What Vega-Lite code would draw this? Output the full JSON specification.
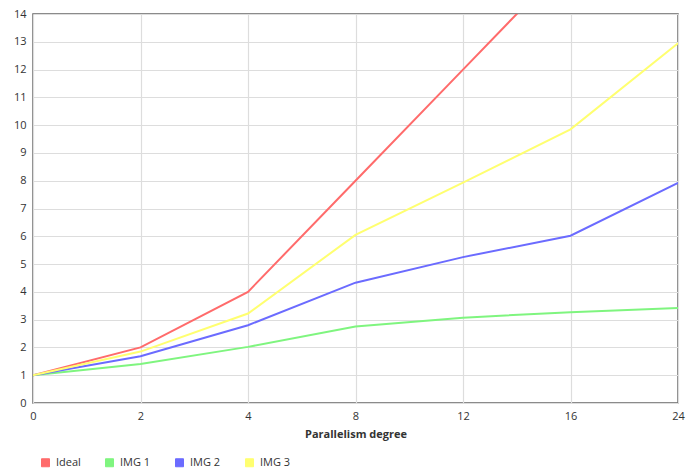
{
  "$schema": "https://vega.github.io/schema/vega-lite/v6.json",
  "autosize": "none",
  "width": 645,
  "height": 389,
  "padding": {"left": 33, "top": 14, "right": 19, "bottom": 70},
  "background": "white",
  "config": {
    "font": "Open Sans",
    "view": {"stroke": "#666666", "strokeWidth": 1.5},
    "axis": {"gridColor": "#dddddd", "gridWidth": 1.2, "domain": false, "ticks": false, "labelFont": "Open Sans", "labelFontSize": 11, "labelColor": "#333333"}
  },
  "data": {
    "values": [
      {"x": 0, "series": "Ideal", "y": 1},
      {"x": 2, "series": "Ideal", "y": 2},
      {"x": 4, "series": "Ideal", "y": 4},
      {"x": 8, "series": "Ideal", "y": 8},
      {"x": 12, "series": "Ideal", "y": 12},
      {"x": 16, "series": "Ideal", "y": 16},
      {"x": 24, "series": "Ideal", "y": 24},
      {"x": 0, "series": "IMG 1", "y": 1},
      {"x": 2, "series": "IMG 1", "y": 1.4},
      {"x": 4, "series": "IMG 1", "y": 2.02},
      {"x": 8, "series": "IMG 1", "y": 2.75},
      {"x": 12, "series": "IMG 1", "y": 3.07},
      {"x": 16, "series": "IMG 1", "y": 3.27},
      {"x": 24, "series": "IMG 1", "y": 3.42},
      {"x": 0, "series": "IMG 2", "y": 1},
      {"x": 2, "series": "IMG 2", "y": 1.68},
      {"x": 4, "series": "IMG 2", "y": 2.8},
      {"x": 8, "series": "IMG 2", "y": 4.33},
      {"x": 12, "series": "IMG 2", "y": 5.25},
      {"x": 16, "series": "IMG 2", "y": 6.02},
      {"x": 24, "series": "IMG 2", "y": 7.92},
      {"x": 0, "series": "IMG 3", "y": 1},
      {"x": 2, "series": "IMG 3", "y": 1.85},
      {"x": 4, "series": "IMG 3", "y": 3.22},
      {"x": 8, "series": "IMG 3", "y": 6.05},
      {"x": 12, "series": "IMG 3", "y": 7.93},
      {"x": 16, "series": "IMG 3", "y": 9.85},
      {"x": 24, "series": "IMG 3", "y": 12.95}
    ]
  },
  "mark": {"type": "line", "strokeWidth": 2, "clip": true},
  "encoding": {
    "x": {
      "field": "x", "type": "ordinal",
      "scale": {"type": "point", "padding": 0},
      "axis": {"title": "Parallelism degree", "grid": true, "labelAngle": 0, "labelPadding": 7, "titleFont": "Open Sans", "titleFontSize": 11, "titleFontWeight": "bold", "titleColor": "#333333", "titlePadding": 7}
    },
    "y": {
      "field": "y", "type": "quantitative",
      "scale": {"domain": [0, 14], "nice": false},
      "axis": {"title": null, "values": [0,1,2,3,4,5,6,7,8,9,10,11,12,13,14], "labelOverlap": false, "labelPadding": 7}
    },
    "color": {
      "field": "series", "type": "nominal",
      "scale": {"domain": ["Ideal", "IMG 1", "IMG 2", "IMG 3"], "range": ["#ff6b6b", "#7ff57f", "#6b6bff", "#ffff70"]},
      "legend": {
        "title": null, "orient": "none", "legendX": 7, "legendY": 443, "direction": "horizontal",
        "symbolType": "square", "symbolSize": 64, "symbolStrokeWidth": 1,
        "labelFont": "Open Sans", "labelFontSize": 11, "labelColor": "#333333", "columnPadding": 22, "labelOffset": 5,
        "encode": {"symbols": {"update": {"fill": {"scale": "color", "field": "value"}, "fillOpacity": {"value": 1}}}}
      }
    }
  }
}
